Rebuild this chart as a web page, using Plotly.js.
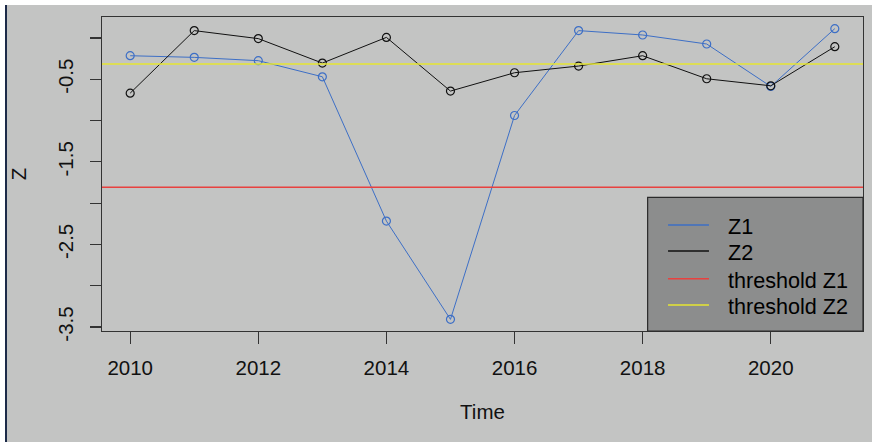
<!DOCTYPE html>
<html>
<head>
<meta charset="utf-8">
<script src="https://cdn.plot.ly/plotly-3.0.1.min.js"></script>
<style>
html,body{margin:0;padding:0;background:#ffffff;width:872px;height:442px;overflow:hidden;}
#edge{position:absolute;left:5px;top:5px;width:2px;height:437px;background:#1c2a48;}
#plot{position:absolute;left:7px;top:5px;width:865px;height:437px;}
</style>
</head>
<body>
<div id="edge"></div>
<div id="plot"></div>
<script>
// ---- data ----
const years = [2010, 2011, 2012, 2013, 2014, 2015, 2016, 2017, 2018, 2019, 2020, 2021];
const z1 = [-0.215, -0.235, -0.275, -0.47, -2.217, -3.407, -0.939, 0.089, 0.036, -0.073, -0.587, 0.113];
const z2 = [-0.668, 0.089, -0.008, -0.304, 0.007, -0.643, -0.421, -0.34, -0.215, -0.494, -0.579, -0.106];
const thresholdZ1 = [-1.808];
const thresholdZ2 = [-0.316];
const seriesNames = ['Z1', 'Z2', 'threshold Z1', 'threshold Z2'];
const xTickVals = [2010, 2012, 2014, 2016, 2018, 2020];
const yTickVals = [0, -0.5, -1, -1.5, -2, -2.5, -3, -3.5];
const yTickText = ['', '-0.5', '', '-1.5', '', '-2.5', '', '-3.5'];

// ---- styling ----
const colors = ['#3d6fc6', '#111111', '#e8413f', '#e6e632'];
const bg = '#c3c4c3';
const font = 'Liberation Sans, Arial, sans-serif';

const traces = [z1, z2].map((vals, i) => ({
  x: years, y: vals, type: 'scatter', mode: 'lines+markers', name: seriesNames[i],
  line: {color: colors[i], width: 1},
  marker: {symbol: 'circle-open', size: 8, color: colors[i], line: {width: 1.2, color: colors[i]}},
  showlegend: false, hoverinfo: 'skip'
}));

// R-style 4% axis extension
const xmin = Math.min(...years), xmax = Math.max(...years);
const allY = z1.concat(z2);
const ymin = Math.min(...allY), ymax = Math.max(...allY);
const xr = [xmin - 0.04 * (xmax - xmin), xmax + 0.04 * (xmax - xmin)];
const yr = [ymin - 0.04 * (ymax - ymin), ymax + 0.04 * (ymax - ymin)];

const shapes = [
  {type: 'line', xref: 'paper', yref: 'y', x0: 0, x1: 1, y0: thresholdZ1[0], y1: thresholdZ1[0], line: {color: colors[2], width: 1.5}, layer: 'above'},
  {type: 'line', xref: 'paper', yref: 'y', x0: 0, x1: 1, y0: thresholdZ2[0], y1: thresholdZ2[0], line: {color: colors[3], width: 1.6}, layer: 'above'},
  // legend box
  {type: 'rect', xref: 'paper', yref: 'paper', x0: 0.717, x1: 1, y0: 0, y1: 0.4258, fillcolor: '#8c8d8d', line: {color: '#2a2a2a', width: 1.2}, layer: 'above'}
];
const legLineY = [0.3376, 0.2548, 0.1666, 0.0828];
const legTextY = [0.3322, 0.2494, 0.1624, 0.0774];
const annotations = [];
seriesNames.forEach((n, i) => {
  shapes.push({type: 'line', xref: 'paper', yref: 'paper', x0: 0.7438, x1: 0.7976, y0: legLineY[i], y1: legLineY[i], line: {color: colors[i], width: 1.6}, layer: 'above'});
  annotations.push({xref: 'paper', yref: 'paper', x: 0.8206, y: legTextY[i], xanchor: 'left', yanchor: 'middle', text: n, showarrow: false, font: {family: font, size: 21.6, color: '#000'}});
});

const layout = {
  width: 865, height: 437,
  margin: {l: 95, r: 9, t: 12, b: 111, pad: 0},
  paper_bgcolor: bg, plot_bgcolor: bg,
  font: {family: font, size: 20.5, color: '#111'},
  showlegend: false,
  xaxis: {
    range: xr, tickvals: xTickVals, ticks: 'outside', ticklen: 12, tickcolor: '#333', tickwidth: 1.2,
    showgrid: false, zeroline: false, showline: true, mirror: true, linecolor: '#333', linewidth: 1.2,
    ticklabelstandoff: 6,
    title: {text: 'Time', standoff: 26, font: {family: font, size: 20.5, color: '#111'}}
  },
  yaxis: {
    range: yr, tickvals: yTickVals, ticktext: yTickText, ticks: 'outside', ticklen: 11, tickcolor: '#333', tickwidth: 1.2,
    tickangle: -90, showgrid: false, zeroline: false, showline: true, mirror: true, linecolor: '#333', linewidth: 1.2,
    ticklabelstandoff: 9,
    title: {text: 'Z', standoff: 30, font: {family: font, size: 20.5, color: '#111'}}
  },
  shapes: shapes,
  annotations: annotations
};

Plotly.newPlot('plot', traces, layout, {displayModeBar: false, staticPlot: true});
</script>
</body>
</html>
